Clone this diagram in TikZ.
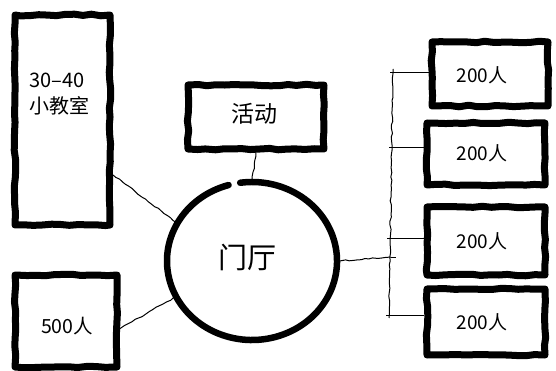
\documentclass[tikz,border=0pt]{standalone}
\usepackage{fontspec}
\setmainfont{Noto Sans CJK SC}
\usetikzlibrary{shapes.geometric,decorations.pathmorphing,calc}
\begin{document}
\begin{tikzpicture}[x=1pt,y=-1pt,
  roombox/.style={draw=black, line width=7pt, line join=round, inner sep=0pt,
    decorate, decoration={random steps, segment length=9pt, amplitude=0.8pt}},
  link/.style={draw=black, line width=1pt,
    decorate, decoration={random steps, segment length=4pt, amplitude=0.7pt}},
  plain/.style={draw=black, line width=1pt},
  lbl/.style={font=\fontsize{19}{22}\selectfont, inner sep=0pt}
]
\useasboundingbox (0,0) rectangle (556,371);
\pgfmathsetseed{7}
% left boxes
\node[roombox, minimum width=95pt, minimum height=210pt] (tall) at (62.5,120) {};
\node[lbl, font=\fontsize{20}{26}\selectfont, align=left, anchor=north west] (talltxt) at (29,73) {30–40\\小教室};
\node[roombox, minimum width=102pt, minimum height=92pt] (big) at (66,321) {};
\node[lbl, font=\fontsize{19.5}{22}\selectfont] (bigtxt) at (67,326) {500人};
% activity
\node[roombox, minimum width=136pt, minimum height=64pt] (act) at (256,117) {};
\node[lbl, font=\fontsize{23}{26}\selectfont] (acttxt) at (254,114) {活动};
% hall
\node[ellipse, minimum width=170pt, minimum height=158pt, inner sep=0pt] (hall) at (252,261) {};
\draw[line width=6.5pt, line cap=round] (252,261) ++(106:85pt and 79pt) arc[start angle=106, end angle=458, x radius=85pt, y radius=79pt];
\node[lbl, font=\fontsize{29}{32}\selectfont] (halltxt) at (247,257) {门厅};
% right boxes
\node[roombox, minimum width=116pt, minimum height=64pt] (r1) at (490,74) {};
\node[roombox, minimum width=118pt, minimum height=62pt] (r2) at (486,154) {};
\node[roombox, minimum width=118pt, minimum height=68pt] (r3) at (486,241) {};
\node[roombox, minimum width=118pt, minimum height=66pt] (r4) at (486,322) {};
\node[lbl] (r1t) at (482,75) {200人};
\node[lbl] (r2t) at (482,153) {200人};
\node[lbl] (r3t) at (482,241) {200人};
\node[lbl] (r4t) at (482,322) {200人};
% connectors
\coordinate (tallp) at (113,175);
\coordinate (bigp) at (118,330);
\path[link] (tallp) -- (hall.153);
\path[link] (bigp) -- (hall.205);
\path[link] (act.south) -- (hall.north);
% bus
\coordinate (bt) at (393,69);
\coordinate (bb) at (389,318);
\coordinate (b1) at (393,73);
\coordinate (b2) at (392,148);
\coordinate (b3) at (391,238);
\coordinate (bj) at (391,257);
\coordinate (b4) at (389,315);
\path[link] (bt) -- (bb);
\path[link] (hall.east) -- (bj);
\draw[plain] (b1) ++(-3,0) -- (r1.west |- b1);
\draw[plain] (b2) ++(-3,0) -- (r2.west |- b2);
\draw[plain] (b3) ++(-4,0) -- (r3.west |- b3);
\draw[plain] (b4) ++(-3,0) -- (r4.west |- b4);
\draw[plain] (bj) -- ++(5,0);
\end{tikzpicture}
\end{document}
